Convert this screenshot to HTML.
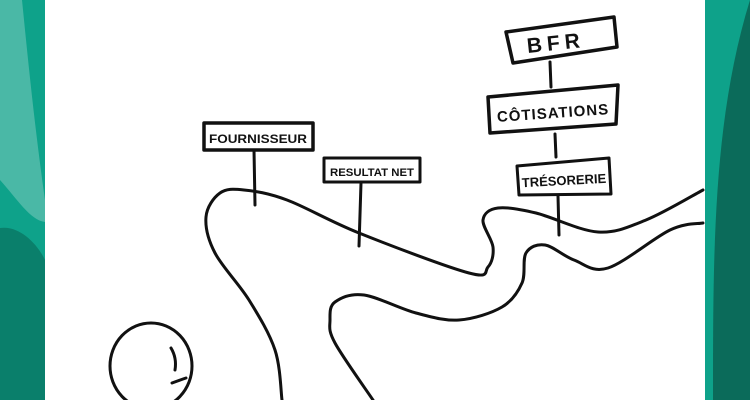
<!DOCTYPE html>
<html><head><meta charset="utf-8"><style>
html,body{margin:0;padding:0;width:750px;height:400px;overflow:hidden;background:#fff}
svg{display:block}
text{font-family:"Liberation Sans",sans-serif;font-weight:bold}
</style></head><body>
<svg width="750" height="400" viewBox="0 0 750 400" xmlns="http://www.w3.org/2000/svg">
<rect x="0" y="0" width="45" height="400" fill="#0ea28a"/>
<path d="M0,0 L22,0 C28,60 35,130 45,200 L45,222 C30,220 18,200 0,180 Z" fill="#4ab8a6"/>
<path d="M0,228 C20,225 38,245 45,260 L45,400 L0,400 Z" fill="#0a7f6b"/>
<rect x="705" y="0" width="45" height="400" fill="#0ea28a"/>
<path d="M750,0 L750,400 L713,400 C713,250 713,120 750,0 Z" fill="#0b6b5a"/>
<g fill="none" stroke="#111" stroke-width="3" stroke-linecap="round" stroke-linejoin="round">
<path class="cr" data-p="282,400 275,350 249,300 215,253 206,217 220,193 244,190 287,200 359,233 469,273 488,267 493,247 483,220 498,208 536,213 598,232 646,220 703,190"/>
<path class="cr" data-p="703,223 670,230 608,268 574,260 545,245 526,253 522,283 502,307 459,320 416,313 364,295 335,302 330,320 335,343 373,400"/>
<ellipse cx="151" cy="366" rx="41" ry="43"/>
<path d="M171,348 Q177,358 175,370"/>
<path d="M172,383 Q180,380 186,378"/>
<line x1="254" y1="150" x2="255" y2="205"/>
<line x1="361" y1="183" x2="359" y2="246"/>
<line x1="550" y1="62" x2="551" y2="87"/>
<line x1="555" y1="134" x2="556" y2="157"/>
<line x1="558" y1="196" x2="559" y2="235"/>
<rect x="204" y="123" width="109" height="27" fill="#fff" stroke-width="3.5"/>
<rect x="324" y="158" width="96" height="24" fill="#fff"/>
<polygon points="506,32 614,17 617,47 513,63" fill="#fff" stroke-width="3.5"/>
<polygon points="488,97 618,85 616,124 490,133" fill="#fff" stroke-width="3.5"/>
<polygon points="517,166 609,158 611,194 519,195" fill="#fff"/>
</g>
<text x="258" y="143" font-size="12" text-anchor="middle" fill="#111" textLength="98" lengthAdjust="spacingAndGlyphs">FOURNISSEUR</text>
<text x="372" y="176" font-size="11" text-anchor="middle" fill="#111" textLength="84" lengthAdjust="spacingAndGlyphs">RESULTAT NET</text>
<text x="556" y="50" font-size="21" text-anchor="middle" fill="#111" font-weight="normal" letter-spacing="5" transform="rotate(-6 556 45)">BFR</text>
<text x="553" y="118" font-size="15" text-anchor="middle" fill="#111" font-weight="normal" letter-spacing="1" transform="rotate(-4 553 112)">CÔTISATIONS</text>
<text x="564" y="185" font-size="13" text-anchor="middle" fill="#111" transform="rotate(-3 564 180)">TRÉSORERIE</text>
</svg>
<script>
document.querySelectorAll('path.cr').forEach(function(el){
var p=el.getAttribute('data-p').trim().split(/\s+/).map(function(s){return s.split(',').map(Number)});
var d='M'+p[0][0]+','+p[0][1];
for(var i=0;i<p.length-1;i++){
var p0=p[i-1]||p[i],p1=p[i],p2=p[i+1],p3=p[i+2]||p2;
var c1=[p1[0]+(p2[0]-p0[0])/6,p1[1]+(p2[1]-p0[1])/6];
var c2=[p2[0]-(p3[0]-p1[0])/6,p2[1]-(p3[1]-p1[1])/6];
d+=' C'+c1[0]+','+c1[1]+' '+c2[0]+','+c2[1]+' '+p2[0]+','+p2[1];
}
el.setAttribute('d',d);
});
</script>
</body></html>
